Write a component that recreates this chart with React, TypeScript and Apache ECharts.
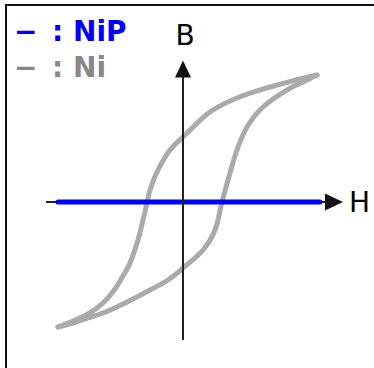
import React, { useEffect, useRef } from "react";
import * as echarts from "echarts";

// Ni hysteresis loop, descending branch (from +saturation to -saturation)
const niDescH = [134, 117, 87, 54, 27, 2, -13, -25, -33, -36, -40, -45, -53, -60, -68, -80, -95, -110, -125];
const niDescB = [127, 123, 115, 104, 90, 67, 52, 32, 12, -1, -18, -38, -61, -74, -87, -101, -112, -119, -125];
// Ni hysteresis loop, ascending branch (from -saturation to +saturation)
const niAscH = [-125, -110, -95, -80, -66, -50, -33, -15, 0, 20, 32, 39, 47, 54, 64, 80, 104, 124, 134];
const niAscB = [-125, -121, -116, -111, -105, -97, -88, -78, -66, -48, -28, 0, 29, 52, 75, 95, 112, 122, 127];
// NiP: non-magnetic, B stays zero
const nipH = [-125, 137];
const nipB = [0, 0];
// axes
const hAxisH = [-137, 151];
const bAxisB = [-138, 133];

const legendNiP = ": NiP";
const legendNi = ": Ni";
const dash = "\u2212";

const pairs = (xs: number[], ys: number[]) => xs.map((x, i) => [x, ys[i]]);

export default function App() {
  const ref = useRef<HTMLDivElement>(null);
  useEffect(() => {
    if (!ref.current) return;
    const chart = echarts.init(ref.current, undefined, { renderer: "svg" });
    const font = "DejaVu Sans, Verdana, sans-serif";
    chart.setOption({
      animation: false,
      backgroundColor: "#ffffff",
      grid: { left: 3, right: 0, top: 2, bottom: 0 },
      xAxis: { type: "value", min: -180, max: 191, show: false },
      yAxis: { type: "value", min: -166, max: 200, show: false },
      series: [
        {
          type: "line",
          z: 1,
          symbol: "none",
          showSymbol: true,
          lineStyle: { color: "#222", width: 2 },
          itemStyle: { color: "#111" },
          data: [
            { value: [hAxisH[0], 0], symbol: "none" },
            { value: [hAxisH[1], 0], symbol: "triangle", symbolSize: [17, 18], symbolRotate: -90 },
          ],
        },
        {
          type: "line",
          z: 2,
          symbol: "none",
          smooth: 0.35,
          lineStyle: { color: "#aaaaaa", width: 5, cap: "round", join: "round" },
          data: pairs(niDescH, niDescB),
        },
        {
          type: "line",
          z: 2,
          symbol: "none",
          smooth: 0.35,
          lineStyle: { color: "#aaaaaa", width: 5, cap: "round", join: "round" },
          data: pairs(niAscH, niAscB),
        },
        {
          type: "line",
          z: 3,
          symbol: "none",
          lineStyle: { color: "#0000ff", width: 5, cap: "round" },
          data: pairs(nipH, nipB),
        },
        {
          type: "line",
          z: 4,
          symbol: "none",
          showSymbol: true,
          lineStyle: { color: "#222", width: 2 },
          itemStyle: { color: "#111" },
          data: [
            { value: [0, bAxisB[0]], symbol: "none" },
            { value: [0, bAxisB[1]], symbol: "triangle", symbolSize: [16, 17] },
          ],
        },
      ],
      graphic: [
        {
          type: "rect",
          shape: { x: 6, y: 5, width: 420, height: 420 },
          style: { fill: "none", stroke: "#111", lineWidth: 2 },
          z: 10,
        },
        {
          type: "text",
          style: { text: "B", x: 185, y: 35.5, font: `28px ${font}`, fill: "#000", align: "center", verticalAlign: "middle" },
        },
        {
          type: "text",
          style: { text: "H", x: 349, y: 202.5, font: `28px ${font}`, fill: "#000", align: "left", verticalAlign: "middle" },
        },
        {
          type: "text",
          style: { text: dash, x: 14, y: 31, font: `bold 28px ${font}`, fill: "#0000ff", align: "left", verticalAlign: "middle" },
        },
        {
          type: "text",
          style: { text: legendNiP, x: 52, y: 31, font: `bold 28px ${font}`, fill: "#0000ff", align: "left", verticalAlign: "middle" },
        },
        {
          type: "text",
          style: { text: dash, x: 14, y: 67.5, font: `bold 28px ${font}`, fill: "#888888", align: "left", verticalAlign: "middle" },
        },
        {
          type: "text",
          style: { text: legendNi, x: 52, y: 67.5, font: `bold 28px ${font}`, fill: "#888888", align: "left", verticalAlign: "middle" },
        },
      ],
    });
    return () => chart.dispose();
  }, []);
  return <div ref={ref} style={{ position: "absolute", left: 0, top: 0, width: 374, height: 368 }} />;
}
